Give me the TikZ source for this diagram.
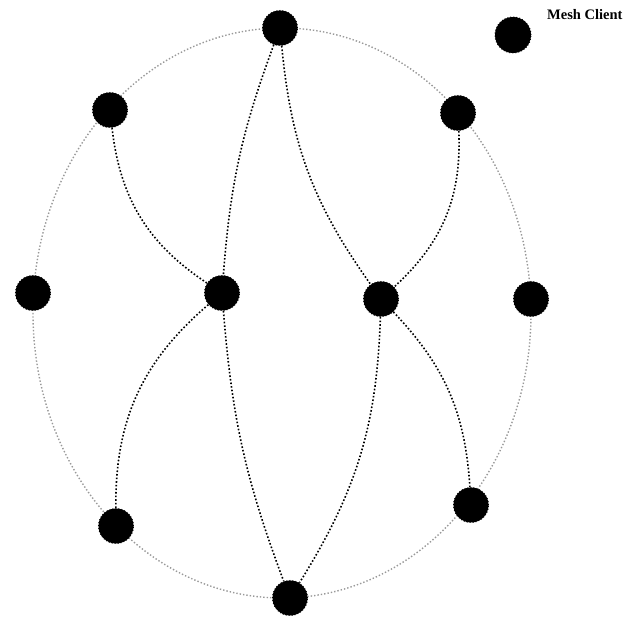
\documentclass[tikz,border=0pt]{standalone}
\usepackage{fontspec}
\setmainfont{Liberation Serif}
\begin{document}
\begin{tikzpicture}[x=1pt,y=1pt,
  client/.style={circle,fill=black,draw=black,dotted,line width=1pt,minimum size=35pt,inner sep=0pt},
  link/.style={draw=black,dotted,line width=1.6pt},
  ring/.style={draw=gray!80,dotted,line width=1.4pt}]
\useasboundingbox (0,0) rectangle (639,618);
\draw[ring] (282,305) ellipse [x radius=249, y radius=285];
\node[client] (T)  at (280,590) {};
\node[client] (UL) at (110,508) {};
\node[client] (UR) at (458,505) {};
\node[client] (L)  at (33,325) {};
\node[client] (R)  at (531,319) {};
\node[client] (CL) at (222,325) {};
\node[client] (CR) at (381,319) {};
\node[client] (LL) at (116,92) {};
\node[client] (LR) at (471,113) {};
\node[client] (B)  at (290,20) {};
\node[client, minimum size=36pt] (LG) at (513,583) {};
\node[anchor=west,inner sep=0pt,font=\bfseries\fontsize{14.5}{16}\selectfont] (LT) at (547,603) {Mesh Client};
\path[link] (T) to[bend right=8] (CL);
\path[link] (T) to[bend right=15] (CR);
\path[link] (UL) to[bend right=25] (CL);
\path[link] (UR) to[bend left=25] (CR);
\path[link] (CL) to[bend right=25] (LL);
\path[link] (CL) to[bend right=8] (B);
\path[link] (CR) to[bend left=15] (B);
\path[link] (CR) to[bend left=20] (LR);
\end{tikzpicture}
\end{document}
